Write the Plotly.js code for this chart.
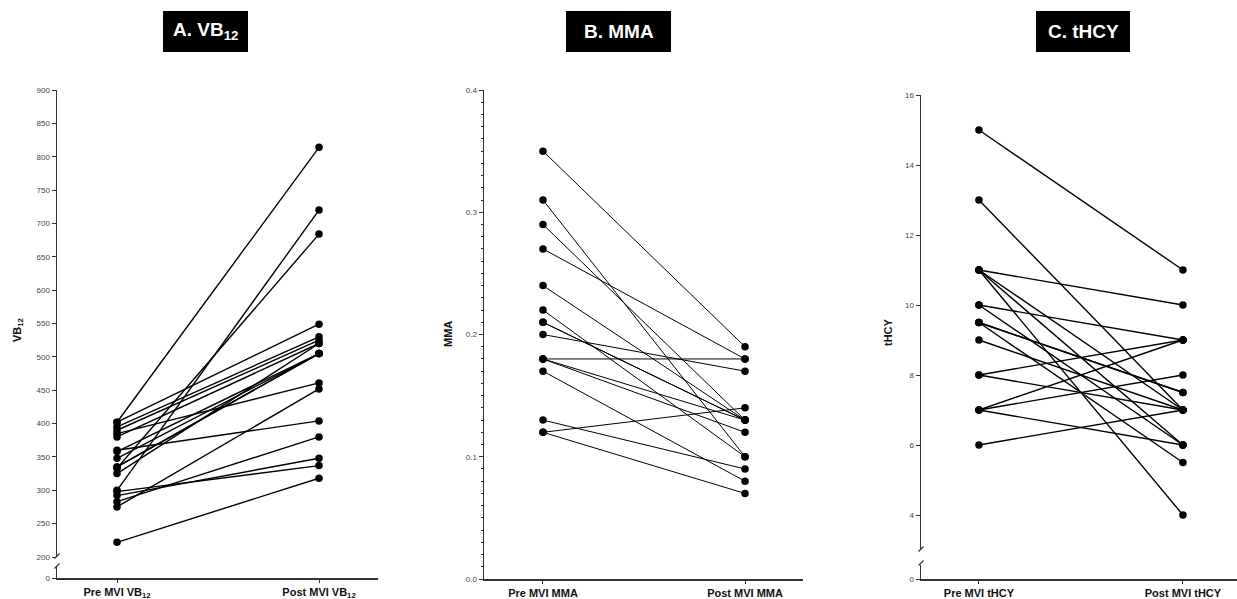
<!DOCTYPE html>
<html><head><meta charset="utf-8">
<script src="https://cdn.plot.ly/plotly-3.0.1.min.js"></script>
<style>html,body{margin:0;padding:0;background:#fff}#c{width:1237px;height:599px}</style>
</head><body><div id="c"></div>
<script>
// ---------- data ----------
const catsA = ['Pre MVI VB<sub>12</sub>', 'Post MVI VB<sub>12</sub>'];
const preA  = [402, 402, 395, 390, 385, 380, 360, 358, 348, 335, 335, 333, 325, 300, 298, 292, 283, 275, 222];
const postA = [814, 549, 530, 525, 461, 520, 404, 505, 505, 505, 505, 684, 520, 720, 337, 348, 380, 452, 318];

const catsB = ['Pre MVI MMA', 'Post MVI MMA'];
const preB  = [0.35, 0.31, 0.29, 0.27, 0.24, 0.22, 0.21, 0.21, 0.20, 0.18, 0.18, 0.18, 0.17, 0.13, 0.12, 0.12];
const postB = [0.19, 0.10, 0.13, 0.18, 0.13, 0.10, 0.13, 0.13, 0.17, 0.18, 0.13, 0.12, 0.08, 0.09, 0.14, 0.07];

const catsC = ['Pre MVI tHCY', 'Post MVI tHCY'];
const preC  = [15, 13, 11, 11, 11, 11, 10, 10, 9.5, 9.5, 9.5, 9, 8, 8, 7, 7, 7, 6];
const postC = [11, 7, 10, 4, 6, 7, 9, 6, 7.5, 7.5, 5.5, 7, 9, 7, 9, 8, 6, 7];

const panelTitles = ['A. VB<sub>12</sub>', 'B. MMA', 'C. tHCY'];
const yTitles = ['VB<sub>12</sub>', 'MMA', 'tHCY'];

// ---------- layout helpers ----------
const W = 1237, H = 599;
const fx = p => p / W, fy = p => 1 - p / H;
const FONT = 'Arial, "Liberation Sans", Helvetica, sans-serif';
const LC = '#333';

const traces = [];
function addPairs(cats, pre, post, xa, ya, lw) {
  for (let i = 0; i < pre.length; i++) {
    traces.push({
      type: 'scatter', mode: 'lines+markers',
      x: cats, y: [pre[i], post[i]],
      xaxis: xa, yaxis: ya,
      line: {color: '#000', width: lw},
      marker: {color: '#000', size: 7.5},
      cliponaxis: false, hoverinfo: 'skip', showlegend: false
    });
  }
}
addPairs(catsA, preA, postA, 'x', 'y', 1.4);
addPairs(catsB, preB, postB, 'x2', 'y3', 1.0);
addPairs(catsC, preC, postC, 'x3', 'y4', 1.4);
// empty traces so the short lower axis segments (below the breaks) are drawn
traces.push({type: 'scatter', mode: 'markers', x: [catsA[0]], y: [null], xaxis: 'x', yaxis: 'y2', showlegend: false, hoverinfo: 'skip'});
traces.push({type: 'scatter', mode: 'markers', x: [catsC[0]], y: [null], xaxis: 'x3', yaxis: 'y5', showlegend: false, hoverinfo: 'skip'});

const yBase = {
  showgrid: false, zeroline: false, showline: true, linecolor: LC, linewidth: 1.5,
  ticks: 'outside', ticklen: 4, tickwidth: 1, tickcolor: LC,
  tickfont: {family: FONT, size: 8, color: '#444'}, fixedrange: true
};
const xBase = {
  type: 'category', showgrid: false, zeroline: false, showline: true, linecolor: LC, linewidth: 1.5,
  ticks: 'outside', ticklen: 3, tickwidth: 1, tickcolor: LC,
  tickfont: {family: FONT, size: 11, color: '#111', weight: 'bold'}, fixedrange: true
};

const layout = {
  width: W, height: H, margin: {l: 0, r: 0, t: 0, b: 0},
  paper_bgcolor: '#fff', plot_bgcolor: 'rgba(0,0,0,0)', showlegend: false,
  // Panel A
  xaxis: Object.assign({}, xBase, {domain: [fx(57), fx(378)], range: [-0.297, 1.292], anchor: 'y2', categoryarray: catsA, categoryorder: 'array'}),
  yaxis: Object.assign({}, yBase, {domain: [fy(557), fy(90)], range: [200, 900], dtick: 50, tick0: 0, anchor: 'x'}),
  yaxis2: Object.assign({}, yBase, {domain: [fy(578), fy(567)], range: [0, 16], tickvals: [0], anchor: 'x'}),
  // Panel B
  xaxis2: Object.assign({}, xBase, {domain: [fx(484), fx(803)], range: [-0.292, 1.287], anchor: 'y3', categoryarray: catsB, categoryorder: 'array'}),
  yaxis3: Object.assign({}, yBase, {domain: [fy(579), fy(90)], range: [0, 0.4], dtick: 0.1, tick0: 0, tickformat: '.1f', anchor: 'x2',
    minor: {dtick: 0.01, ticklen: 2, tickwidth: 1, tickcolor: LC, ticks: 'outside', showgrid: false}}),
  // Panel C
  xaxis3: Object.assign({}, xBase, {domain: [fx(921), fx(1237)], range: [-0.284, 1.265], anchor: 'y5', categoryarray: catsC, categoryorder: 'array'}),
  yaxis4: Object.assign({}, yBase, {domain: [fy(550), fy(95)], range: [3, 16], dtick: 2, tick0: 0, anchor: 'x3'}),
  yaxis5: Object.assign({}, yBase, {domain: [fy(579), fy(565)], range: [0, 16], tickvals: [0], anchor: 'x3'}),
  shapes: [],
  annotations: []
};

// title boxes
const boxes = [[163, 248], [566, 671], [1036, 1130]];
boxes.forEach((b, i) => {
  layout.shapes.push({type: 'rect', xref: 'paper', yref: 'paper', x0: fx(b[0]), x1: fx(b[1]), y0: fy(52), y1: fy(11),
    fillcolor: '#000', line: {width: 0}, layer: 'above'});
  layout.annotations.push({xref: 'paper', yref: 'paper', x: fx((b[0] + b[1]) / 2), y: fy(31), xanchor: 'center', yanchor: 'middle',
    text: panelTitles[i], showarrow: false, font: {family: FONT, size: 19, color: '#fff', weight: 'bold'}});
});

// y axis titles
[[18, 330], [448, 334], [888, 332]].forEach((p, i) => {
  layout.annotations.push({xref: 'paper', yref: 'paper', x: fx(p[0]), y: fy(p[1]), xanchor: 'center', yanchor: 'middle',
    text: yTitles[i], textangle: -90, showarrow: false, font: {family: FONT, size: 11, color: '#111', weight: 'bold'}});
});

// axis break marks (white gap + two slashes)
function brk(x, yTop, yBot) {
  layout.shapes.push({type: 'line', xref: 'paper', yref: 'paper', x0: fx(x), x1: fx(x), y0: fy(yTop), y1: fy(yBot), line: {color: '#fff', width: 3}});
  layout.shapes.push({type: 'line', xref: 'paper', yref: 'paper', x0: fx(x - 2.5), x1: fx(x + 2.5), y0: fy(yTop + 2.5), y1: fy(yTop - 2.5), line: {color: LC, width: 1.2}});
  layout.shapes.push({type: 'line', xref: 'paper', yref: 'paper', x0: fx(x - 2.5), x1: fx(x + 2.5), y0: fy(yBot + 2.5), y1: fy(yBot - 2.5), line: {color: LC, width: 1.2}});
}
brk(57, 556, 566);
brk(921, 549, 563);

Plotly.newPlot('c', traces, layout, {staticPlot: true, displayModeBar: false});
</script>
</body></html>
